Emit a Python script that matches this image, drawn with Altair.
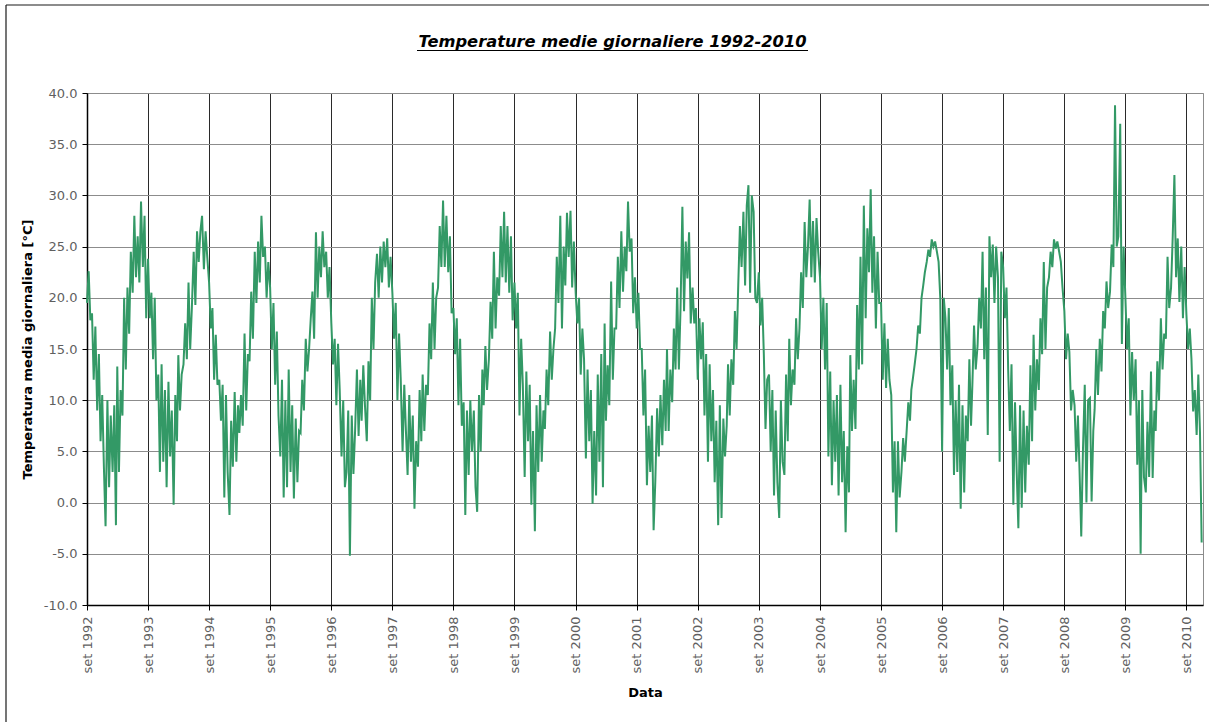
import altair as alt
import pandas as pd

# Daily mean temperature, sampled on the 1st, 11th and 21st of each month.
# Each list covers one season, September -> August.
season_1992 = [19.5, 22.6, 17.8, 18.5, 12, 17.2, 9, 14.5, 6, 10.5, 3.5, -2.3,
               10, 1.5, 8.5, 3, 9.5, -2.2, 13.3, 3, 11, 8.5, 20, 13,
               21, 16.5, 24.5, 20.5, 28, 22, 26, 21.5, 29.4, 23, 28, 18]
season_1993 = [23.8, 18, 20.5, 14, 20, 10, 12.5, 3, 13.5, 4, 11, 1.5,
               11.8, 4.5, 9, -0.2, 10.5, 6, 14.4, 9, 12.5, 13.5, 17.5, 14,
               21.5, 15, 19, 24.5, 19.3, 26.5, 23.5, 26.5, 28, 22.8, 26.5, 24]
season_1994 = [21.5, 17, 19, 12, 16.4, 11.5, 12, 8, 11.5, 0.5, 10.5, 3,
               -1.2, 8, 3.5, 10.8, 4, 9.5, 6.8, 10.5, 7.5, 16.5, 9, 14.5,
               13.8, 20.6, 16, 24.5, 19.5, 25.5, 21.5, 28, 24, 25, 20, 23.5]
season_1995 = [21, 15, 19.5, 11.5, 16.7, 8.5, 4.5, 12, 0.5, 10, 1.5, 13,
               3, 9.5, 0.4, 8.2, 2, 7, 6.8, 12, 9, 16, 12.8, 15,
               18, 20.6, 16, 26.4, 20, 25, 22, 26.5, 23, 24.5, 20, 23]
season_1996 = [17.5, 13.5, 16, 9.5, 15.5, 11, 4.5, 10, 1.5, 3, 9, -5.2,
               8.5, 2.8, 7, 13, 6.5, 12, 8, 13.4, 9.5, 6, 13.8, 10,
               20, 15, 21.5, 24.3, 20, 25, 21.5, 25.5, 23, 25.8, 21, 24]
season_1997 = [20.5, 16, 19.5, 10, 16.5, 12, 5, 11.5, 7, 2.7, 10.5, 4,
               8.5, -0.6, 6, 3.5, 11, 6, 12.5, 7, 11.5, 10.5, 17.5, 14,
               21.5, 15, 20, 21, 27, 23, 29.5, 23, 28, 22.5, 26, 18.5]
season_1998 = [19, 14.5, 18, 9.5, 16, 7.5, 9.8, -1.2, 9, 2.7, 10, 5,
               9, 1.5, -0.9, 10.5, 5, 13, 9.5, 15.3, 11, 14, 19.6, 16,
               24.5, 17, 22, 20.2, 27, 22, 28.4, 21.5, 27, 20.5, 26, 17.8]
season_1999 = [21.5, 17, 20.5, 8.5, 16, 11.5, 2.5, 12.8, 6, 11.5, -0.2, 7,
               -2.8, 9.5, 3, 10.5, 4, 9, 7.2, 13, 9.5, 16.7, 12, 15,
               17, 24, 19.5, 28, 17, 25, 21.2, 28.3, 24, 28.5, 21, 25.5]
season_2000 = [20.5, 17.5, 20, 12.5, 17, 14, 4.3, 13, 6, 11, -0.1, 7,
               0.7, 12.5, 4, 14.5, 1.5, 17.5, 8, 13.4, 9.5, 21.6, 12, 17,
               17, 24, 19, 26.5, 20.6, 25, 22.6, 29.4, 24.5, 25.8, 18.5, 22]
season_2001 = [17, 20.5, 15, 15, 8.5, 13, 1.7, 7.5, 3, 8.5, -2.7, 2,
               9.2, 4.5, 10.5, 5.6, 12, 7, 15, 7, 13, 9.8, 17, 13,
               21, 13, 19, 28.9, 18.7, 25.5, 21.9, 26.4, 17.5, 21, 17.5, 19]
season_2002 = [12, 18, 14, 17.6, 8.5, 14.5, 4, 13.5, 6, 11, 2, 8,
               -2.2, 9.5, -1.5, 8.2, 4.5, 7.5, 13.5, 8.5, 14, 11.5, 18.7, 15,
               21.2, 27, 23, 28.4, 21.2, 29, 31, 20.5, 30, 28.4, 20, 19.5]
season_2003 = [22.5, 17.3, 20, 14.5, 7.2, 12, 12.5, 5, 11, 0.7, 9, 2,
               -1.5, 10, 4, 2.7, 12.5, 6, 16, 9.5, 13, 11.5, 18, 14,
               17, 22.5, 19, 27.4, 22, 25, 29.6, 22, 27.5, 21.5, 27.8, 24.5]
season_2004 = [22, 15, 20, 13, 19.5, 4.5, 12.8, 1.7, 10, 4, 10.5, 0.7,
               11.5, 2, 7, -2.9, 5.5, 1, 14.4, 7, 12, 7.2, 19.3, 13,
               24, 13.5, 29, 18, 26.8, 22.5, 30.6, 20.5, 26, 17, 24.5, 19.5]
season_2005 = [19.5, 12, 17.5, 11.2, 16, 12, 10.5, 1, 6, -2.9, 6, 0.5,
               3, 6.3, 4, 7, 9.8, 8, 11, 12.2, 13.5, 15, 17.3, 16.5,
               20, 21.2, 22.5, 23.5, 24.7, 24, 25.7, 25, 25.5, 24.5, 23.5, 20]
season_2006 = [5, 20, 18, 13, 19, 9.5, 13.4, 2.7, 10, 3, 11.5, -0.6,
               9.5, 1, 8.5, 6, 14, 7.5, 11.5, 17.3, 13, 15.3, 20, 17,
               24.5, 14, 21, 6.6, 26, 22, 25.2, 19.5, 25, 22, 4, 24.5]
season_2007 = [23, 18, 21, 13, 7, 13.5, -0.2, 9.8, 3, -2.5, 9.5, -0.5,
               9, 1, 7.5, 3.7, 13.4, 6, 16.4, 9, 14, 11, 18, 14.5,
               23.5, 15, 21, 22, 24.5, 23, 25.7, 24.8, 25.5, 24.5, 23.5, 21]
season_2008 = [18.7, 14, 16.5, 14.7, 9, 11, 9.5, 4, 8.5, 3, -3.3, 5,
               11.5, 0, 10, 10.2, 0.1, 7, 9.1, 15, 10.5, 16, 12.8, 18.7,
               17, 21.6, 19, 20.6, 25.2, 23, 38.8, 25, 26, 37, 15.5, 25]
season_2009 = [20, 15, 18, 8.5, 14.7, 10, 14, 3.7, 10, -5, 11, 2.5,
               1, 7.9, 2.5, 12.8, 2.4, 9, 7, 13.8, 10, 18, 13, 16.5,
               16, 24, 19, 21, 26, 32, 22, 25.8, 19.6, 25, 18, 23]
season_2010 = [18.3, 15, 17, 14, 8.9, 11, 6.6, 12.5, 6.8, -3.9]

seasons = {
    1992: season_1992, 1993: season_1993, 1994: season_1994, 1995: season_1995,
    1996: season_1996, 1997: season_1997, 1998: season_1998, 1999: season_1999,
    2000: season_2000, 2001: season_2001, 2002: season_2002, 2003: season_2003,
    2004: season_2004, 2005: season_2005, 2006: season_2006, 2007: season_2007,
    2008: season_2008, 2009: season_2009, 2010: season_2010,
}

tick_years = list(range(1992, 2011))

rows = []
for start_year, values in seasons.items():
    for i, v in enumerate(values):
        month_step, dekad = divmod(i, 3)
        m = 9 + month_step
        year = start_year + (m - 1) // 12
        month = (m - 1) % 12 + 1
        day = (1, 11, 21)[dekad]
        rows.append({"data": f"{year:04d}-{month:02d}-{day:02d}", "temp": v})
df = pd.DataFrame(rows)

FONT = "DejaVu Sans"
LABEL_GREY = "#5f5f5f"

x_axis = alt.Axis(
    values=[alt.DateTime(year=y, month=9, date=1, utc=True) for y in tick_years],
    labelExpr="'set ' + utcFormat(datum.value, '%Y')",
    labelAngle=270, labelAlign="right", labelBaseline="middle",
    labelFlush=False, labelOverlap=False,
    labelFont=FONT, labelFontSize=13, labelColor=LABEL_GREY, labelPadding=6,
    tickSize=5, tickColor="#000000", tickWidth=1,
    domainColor="#000000", domainWidth=1.5,
    grid=True, gridColor="#2a2a2a", gridWidth=1,
    title="Data", titleFont=FONT, titleFontSize=13, titleFontWeight="bold",
    titleColor="#000000", titleBaseline="middle", titleY=87,
)

# plain hyphen for negative tick labels
y_axis = alt.Axis(
    values=list(range(-10, 41, 5)),
    labelExpr="datum.value < 0 ? '-' + format(-datum.value, '.1f') : format(datum.value, '.1f')",
    labelFont=FONT, labelFontSize=13, labelColor=LABEL_GREY, labelPadding=5,
    tickSize=5, tickColor="#000000", tickWidth=1,
    domainColor="#000000", domainWidth=1.5,
    grid=True, gridColor="#8c8c8c", gridWidth=1,
    title="Temperatura media giornaliera [°C]", titleFont=FONT,
    titleFontSize=13, titleFontWeight="bold", titleColor="#000000",
    titleAngle=270, titleBaseline="middle", titleX=-60, titleY=256,
)

line = alt.Chart(df).mark_line(color="#339966", strokeWidth=2.0).encode(
    x=alt.X("data:T", scale=alt.Scale(
        type="utc",
        domain=[alt.DateTime(year=1992, month=9, date=1, utc=True),
                alt.DateTime(year=2010, month=12, date=9, utc=True)]),
        axis=x_axis),
    y=alt.Y("temp:Q", scale=alt.Scale(domain=[-10, 40], nice=False), axis=y_axis),
)

one = pd.DataFrame({"k": [0]})

title_text = alt.Chart(one).mark_text(
    text="Temperature medie giornaliere 1992-2010", font=FONT, fontSize=16.3,
    fontWeight="bold", fontStyle="italic", align="center", baseline="alphabetic",
    color="#000000",
).encode(x=alt.value(525.5), y=alt.value(-46))

title_underline = alt.Chart(one).mark_rule(color="#000000", strokeWidth=1).encode(
    x=alt.value(330), x2=alt.value(721), y=alt.value(-42.5)
)

# chart-area frame (left and top edges)
frame_left = alt.Chart(one).mark_rule(color="#1a1a1a", strokeWidth=1.2).encode(
    x=alt.value(-81), y=alt.value(-88), y2=alt.value(640)
)
frame_top = alt.Chart(one).mark_rule(color="#1a1a1a", strokeWidth=1.2).encode(
    x=alt.value(-81), x2=alt.value(1140), y=alt.value(-88)
)

chart = alt.layer(
    line, title_text, title_underline, frame_left, frame_top
).properties(
    width=1116, height=512,
    padding={"left": 87, "top": 93, "right": 6, "bottom": 117},
    autosize=alt.AutoSizeParams(type="none"),
    background="#ffffff",
).configure_view(stroke="#8c8c8c", strokeWidth=1)

chart.save("out.html", embed_options={"renderer": "svg", "actions": False})
